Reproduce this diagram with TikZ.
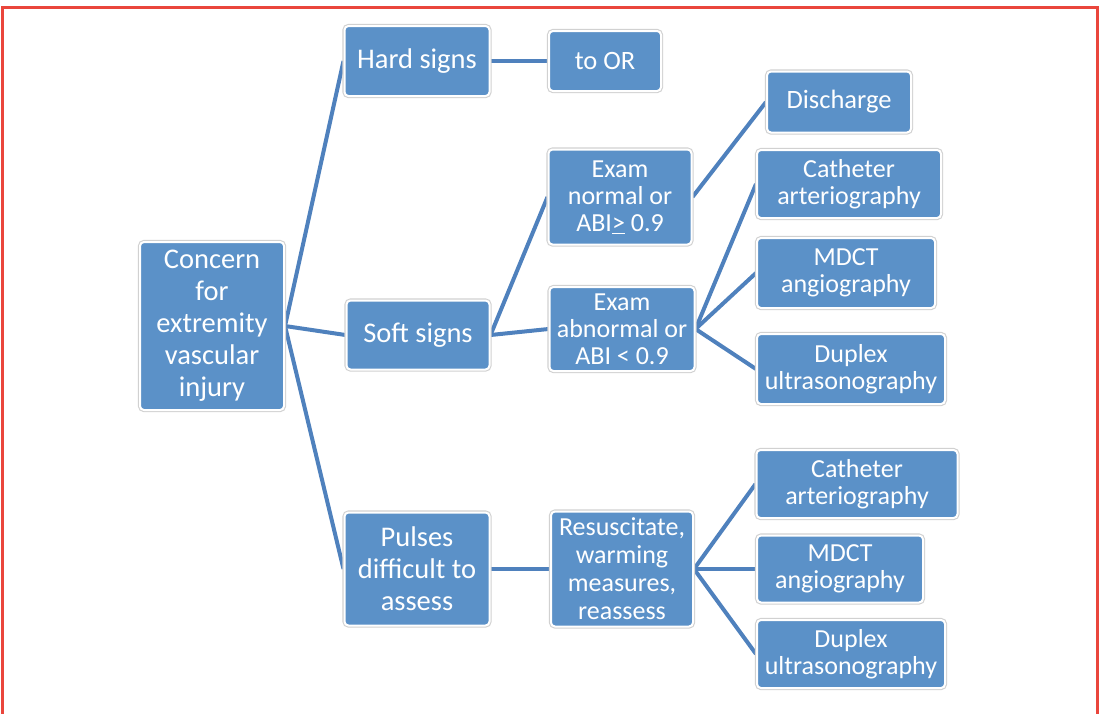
\documentclass[tikz,border=0pt]{standalone}
\usepackage{fontspec}
\setmainfont{Carlito}
\usetikzlibrary{backgrounds}
\definecolor{boxfill}{RGB}{91,145,200}
\definecolor{linkc}{RGB}{79,129,189}
\definecolor{framered}{RGB}{234,70,60}
\tikzset{
  box/.style={fill=boxfill, draw=white, line width=2pt, rounded corners=4pt,
    preaction={draw=black!18, line width=4.2pt, rounded corners=4pt},
    text=white, align=center, inner sep=0pt, anchor=center},
  big/.style={font=\fontsize{28.5}{32}\selectfont},
  mid/.style={font=\fontsize{26.5}{28}\selectfont},
  small/.style={font=\fontsize{26}{27}\selectfont},
  link/.style={draw=linkc, line width=4pt}
}
\begin{document}
\begin{tikzpicture}[x=1pt,y=-1pt]
\useasboundingbox (0,0) rectangle (1099,713);
\draw[framered, line width=3pt] (2.5,714) -- (2.5,7) -- (1097,7) -- (1097,714);

\node[box,big,minimum width=144pt,minimum height=168pt] (concern) at (212,326) {Concern\\for\\extremity\\vascular\\injury};
\node[box,big,minimum width=145pt,minimum height=70pt] (hard) at (417,61) {Hard signs};
\node[box,big,minimum width=143pt,minimum height=69pt] (soft) at (418,335) {Soft signs};
\node[box,big,minimum width=145pt,minimum height=113pt] (pulses) at (417,569) {Pulses\\difficult to\\assess};

\node[box,mid,minimum width=112pt,minimum height=60pt] (toor) at (605,61) {to OR};
\node[box,small,minimum width=143pt,minimum height=95pt] (normal) at (620,197) {Exam\\normal or\\ABI\underline{>} 0.9};
\node[box,small,minimum width=145pt,minimum height=84pt] (abnormal) at (622,329) {Exam\\abnormal or\\ABI < 0.9};
\node[box,minimum width=142pt,minimum height=115pt,font=\fontsize{26}{28}\selectfont] (resus) at (622,569) {Resuscitate,\\warming\\measures,\\reassess};

\node[box,mid,minimum width=144pt,minimum height=61pt] (discharge) at (839,102) {Discharge};
\node[box,small,minimum width=184pt,minimum height=68pt] (cath1) at (849,184) {Catheter\\arteriography};
\node[box,small,minimum width=178pt,minimum height=70pt] (mdct1) at (846,273) {MDCT\\angiography};
\node[box,small,minimum width=188pt,minimum height=70pt] (dup1) at (851,369) {Duplex\\ultrasonography};
\node[box,small,minimum width=201pt,minimum height=68pt] (cath2) at (857,484) {Catheter\\arteriography};
\node[box,small,minimum width=166pt,minimum height=67pt] (mdct2) at (840,569) {MDCT\\angiography};
\node[box,small,minimum width=188pt,minimum height=68pt] (dup2) at (851,654) {Duplex\\ultrasonography};

\begin{scope}[on background layer]
\path[link] (concern.east) -- (hard.west);
\path[link] (concern.east) -- (soft.west);
\path[link] (concern.east) -- (pulses.west);
\path[link] (hard.east) -- (toor.west);
\path[link] (soft.east) -- (normal.west);
\path[link] (soft.east) -- (abnormal.west);
\path[link] (normal.east) -- (discharge.west);
\path[link] (abnormal.east) -- (cath1.west);
\path[link] (abnormal.east) -- (mdct1.west);
\path[link] (abnormal.east) -- (dup1.west);
\path[link] (pulses.east) -- (resus.west);
\path[link] (resus.east) -- (cath2.west);
\path[link] (resus.east) -- (mdct2.west);
\path[link] (resus.east) -- (dup2.west);
\end{scope}
\end{tikzpicture}
\end{document}
